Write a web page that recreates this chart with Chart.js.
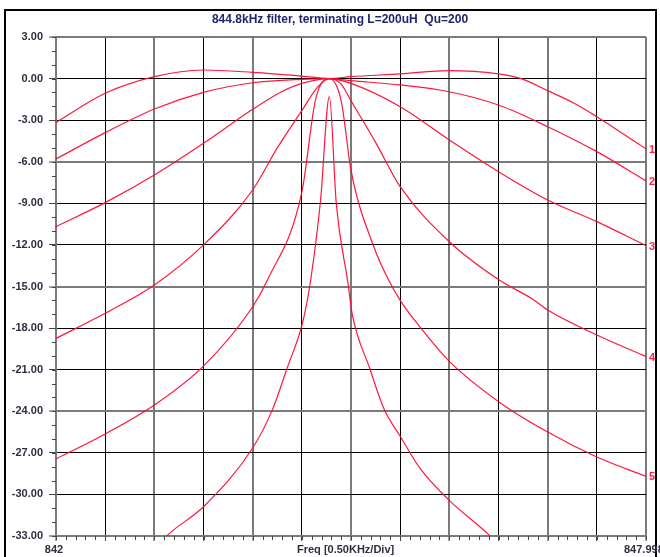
<!DOCTYPE html>
<html>
<head>
<meta charset="utf-8">
<script src="https://cdn.jsdelivr.net/npm/chart.js@4.4.1/dist/chart.umd.min.js"></script>
<style>
  html, body { margin: 0; padding: 0; background: #fff; }
  canvas { display: block; }
</style>
</head>
<body>
<canvas id="myChart" width="660" height="557"></canvas>
<script>
const chartTitle = "844.8kHz filter, terminating L=200uH  Qu=200";
const xLabelLeft = "842";
const xLabelRight = "847.998";
const xTitle = "Freq [0.50KHz/Div]";
const curveNames = ["1", "2", "3", "4", "5", ""];

// curve 1
const freq1 = [842, 842.5, 843, 843.5, 844, 844.5, 844.78, 845, 845.5, 846, 846.5, 846.73, 847, 847.27, 847.5, 847.75, 848];
const db1 = [-3.16, -1.06, 0.14, 0.62, 0.45, 0.18, 0.0, 0.14, 0.34, 0.58, 0.34, 0.0, -0.87, -1.78, -2.75, -3.9, -5.07];
// curve 2
const freq2 = [842, 842.5, 843, 843.5, 844, 844.5, 844.78, 845, 845.5, 846, 846.5, 847, 847.5, 848];
const db2 = [-5.8, -3.9, -2.19, -0.99, -0.3, -0.05, 0.0, -0.15, -0.46, -0.95, -1.91, -3.47, -5.27, -7.38];
// curve 3
const freq3 = [842, 842.5, 843, 843.5, 844, 844.28, 844.5, 844.78, 845, 845.5, 846, 846.5, 847, 847.5, 848];
const db3 = [-10.68, -8.95, -6.96, -4.67, -2.22, -1.0, -0.35, 0.0, -0.35, -2.03, -4.43, -6.72, -8.76, -10.32, -12.05];
// curve 4
const freq4 = [842, 842.5, 843, 843.5, 844, 844.25, 844.51, 844.65, 844.78, 844.9, 845, 845.25, 845.5, 846, 846.5, 846.86, 847, 847.5, 848];
const db4 = [-18.74, -16.93, -14.89, -12.0, -8.04, -5.0, -2.2, -0.7, 0.0, -0.4, -1.6, -4.6, -7.8, -11.77, -14.5, -15.97, -16.7, -18.5, -20.05];
// curve 5
const freq5 = [842, 842.5, 843, 843.5, 844, 844.15, 844.5, 844.64, 844.78, 844.9, 845, 845.23, 845.38, 845.5, 845.71, 846, 846.52, 847, 847.5, 848];
const db5 = [-27.44, -25.64, -23.55, -20.74, -16.46, -14.53, -8.2, -1.5, 0.0, -1.6, -6.6, -12.1, -14.5, -16.0, -18.0, -20.4, -23.4, -25.5, -27.3, -28.7];
// curve 6 (narrowest, runs off the bottom)
const freq6 = [843.0, 843.14, 843.5, 844, 844.2, 844.35, 844.51, 844.59, 844.69, 844.78, 844.85, 844.97, 845.01, 845.19, 845.34, 845.5, 845.71, 846.01, 846.4, 846.55];
const db6 = [-34.0, -32.9, -30.89, -26.65, -23.9, -20.9, -17.54, -14.53, -8.8, -1.3, -9.0, -14.8, -16.9, -20.9, -23.9, -25.8, -28.2, -30.5, -32.9, -34.0];

const xMin = 842, xMax = 848, xStep = 0.5;
const yMin = -33, yMax = 3, yStep = 3;

const curves = [[freq1, db1], [freq2, db2], [freq3, db3], [freq4, db4], [freq5, db5], [freq6, db6]];

const lineRed = "rgba(255, 10, 50, 0.95)";
const gridGray = "#7a7a7a";
const labelColor = "#2e2e3e";
const font = "Arial, 'Liberation Sans', sans-serif";

function isGrayX(v) { return Math.abs(v - Math.round(v)) < 1e-6; }
function isGrayY(v) { return Math.abs(((yMax - v) % 9)) < 1e-6; }

const extras = {
  id: "extras",
  afterDraw(chart) {
    const ctx = chart.ctx;
    const xs = chart.scales.x, ys = chart.scales.y;
    const area = chart.chartArea;
    ctx.save();

    // outer frame
    ctx.strokeStyle = "#000";
    ctx.lineWidth = 2;
    ctx.strokeRect(5, 10, 651, 560);

    // title
    ctx.fillStyle = "#23236e";
    ctx.font = "bold 12px " + font;
    ctx.textAlign = "center";
    ctx.textBaseline = "middle";
    ctx.fillText(chartTitle, 340, 20);

    // minor ticks
    ctx.strokeStyle = "#444";
    ctx.lineWidth = 1;
    ctx.beginPath();
    for (let v = yMin; v <= yMax; v += 1) {
      const py = Math.round(ys.getPixelForValue(v)) + 0.5;
      ctx.moveTo(area.left - 4, py);
      ctx.lineTo(area.left, py);
    }
    for (let i = 0; i <= 60; i++) {
      const px = Math.round(xs.getPixelForValue(xMin + i * 0.1)) + 0.5;
      ctx.moveTo(px, area.bottom);
      ctx.lineTo(px, area.bottom + 4);
    }
    ctx.stroke();

    // x axis labels
    ctx.fillStyle = labelColor;
    ctx.font = "bold 11px " + font;
    ctx.textBaseline = "middle";
    ctx.textAlign = "center";
    ctx.fillText(xLabelLeft, xs.getPixelForValue(xMin) - 2, 550);
    ctx.textAlign = "left";
    ctx.fillText(xTitle, 297, 550);
    ctx.fillText(xLabelRight, 624, 550);

    // curve numbers at the right end
    ctx.fillStyle = "#ff1f48";
    ctx.textAlign = "left";
    curves.forEach((c, i) => {
      if (!curveNames[i]) return;
      const last = c[1][c[1].length - 1];
      ctx.fillText(curveNames[i], area.right + 3, ys.getPixelForValue(last) + 1);
    });
    ctx.restore();
  }
};

new Chart(document.getElementById("myChart"), {
  type: "line",
  data: {
    datasets: curves.map((c, i) => ({
      label: curveNames[i] || "6",
      data: c[0].map((f, k) => ({ x: f, y: c[1][k] })),
      borderColor: lineRed,
      borderWidth: 1.2,
      pointRadius: 0,
      fill: false,
      cubicInterpolationMode: "monotone"
    }))
  },
  options: {
    responsive: false,
    animation: false,
    devicePixelRatio: 1,
    layout: { padding: { top: 37, right: 14, left: 0, bottom: 0 } },
    plugins: { legend: { display: false }, tooltip: { enabled: false }, title: { display: false } },
    scales: {
      x: {
        type: "linear",
        min: xMin, max: xMax,
        ticks: { stepSize: xStep, display: false },
        grid: {
          color: c => isGrayX(c.tick.value) ? gridGray : "#000",
          lineWidth: c => isGrayX(c.tick.value) ? 2 : 1,
          tickLength: 5,
          tickColor: "#444",
          tickWidth: 1
        },
        border: { display: true, color: gridGray, width: 2 },
        afterFit(scale) { scale.height = 21; }
      },
      y: {
        type: "linear",
        min: yMin, max: yMax,
        ticks: {
          stepSize: yStep,
          padding: 6,
          color: labelColor,
          font: { family: font, size: 11, weight: "bold" },
          callback: v => v.toFixed(2)
        },
        grid: {
          color: c => isGrayY(c.tick.value) ? gridGray : "#000",
          lineWidth: c => isGrayY(c.tick.value) ? 2 : 1,
          tickLength: 7,
          tickColor: "#444",
          tickWidth: 1
        },
        border: { display: true, color: gridGray, width: 2 },
        afterFit(scale) { scale.width = 56; }
      }
    }
  },
  plugins: [extras]
});
</script>
</body>
</html>
